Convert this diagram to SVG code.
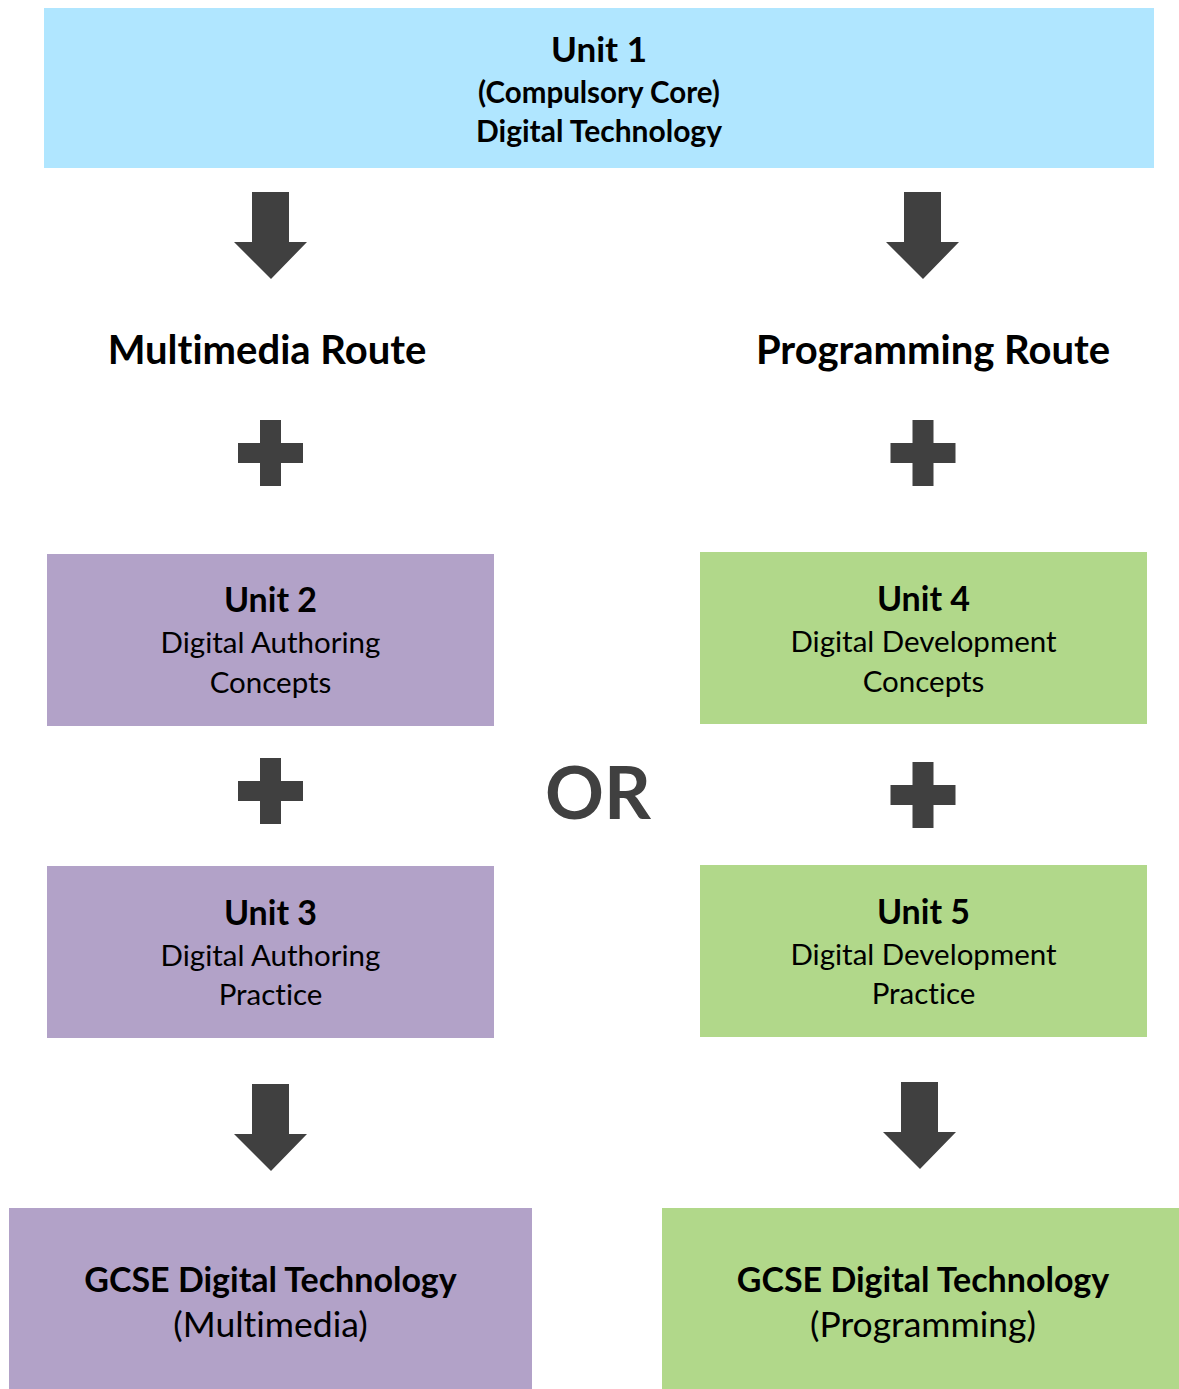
<svg xmlns="http://www.w3.org/2000/svg" width="1179" height="1389" viewBox="0 0 1179 1389">
  <style>
    text { font-family: Lato, "Open Sans", "Liberation Sans", sans-serif; fill: #000; text-anchor: middle; font-variant-ligatures: none; }
    .b { font-weight: bold; }
    .dark { fill: #404040; }
    .core { fill: #b0e6ff; }
    .mm { fill: #b2a2c8; }
    .pg { fill: #b1d88a; }
  </style>
  <defs>
    <path id="arrow" d="M-19,0 H18 V50 H36 L0,87 L-37,50 H-19 Z"/>
    <path id="plus" d="M-10.5,0 H10.5 V23 H32.5 V43 H10.5 V66 H-10.5 V43 H-32.5 V23 H-10.5 Z"/>
  </defs>

  <!-- connectors: arrows and plus signs between units -->
  <g id="connectors" class="dark">
    <use href="#arrow" x="271" y="192"/>
    <use href="#arrow" x="923" y="192"/>
    <use href="#plus" x="270.5" y="420"/>
    <use href="#plus" x="923" y="420"/>
    <use href="#plus" x="270.5" y="758"/>
    <use href="#plus" x="923" y="762"/>
    <use href="#arrow" x="271" y="1084"/>
    <use href="#arrow" x="920" y="1082"/>
  </g>

  <g id="unit1">
    <rect class="core" x="44" y="8" width="1110" height="160"/>
    <text class="b" x="599" y="62" font-size="35">Unit 1</text>
    <text class="b" x="599" y="103" font-size="29.5">(Compulsory Core)</text>
    <text class="b" x="599" y="142" font-size="30">Digital Technology</text>
  </g>

  <g id="route-multimedia">
    <text class="b" x="267" y="364" font-size="40">Multimedia Route</text>
  </g>
  <g id="route-programming">
    <text class="b" x="933" y="364" font-size="40">Programming Route</text>
  </g>

  <g id="unit2">
    <rect class="mm" x="47" y="554" width="447" height="172"/>
    <text class="b" x="270.5" y="612" font-size="34">Unit 2</text>
    <text x="270.5" y="653" font-size="29.5">Digital Authoring</text>
    <text x="270.5" y="693" font-size="29.5">Concepts</text>
  </g>

  <g id="unit4">
    <rect class="pg" x="700" y="552" width="447" height="172"/>
    <text class="b" x="923.5" y="611" font-size="34">Unit 4</text>
    <text x="923.5" y="652" font-size="29.5">Digital Development</text>
    <text x="923.5" y="692" font-size="29.5">Concepts</text>
  </g>

  <g id="or">
    <text class="b dark" x="598" y="819" font-size="73">OR</text>
  </g>

  <g id="unit3">
    <rect class="mm" x="47" y="866" width="447" height="172"/>
    <text class="b" x="270.5" y="925" font-size="34">Unit 3</text>
    <text x="270.5" y="966" font-size="29.5">Digital Authoring</text>
    <text x="270.5" y="1005" font-size="29.5">Practice</text>
  </g>

  <g id="unit5">
    <rect class="pg" x="700" y="865" width="447" height="172"/>
    <text class="b" x="923.5" y="924" font-size="34">Unit 5</text>
    <text x="923.5" y="965" font-size="29.5">Digital Development</text>
    <text x="923.5" y="1004" font-size="29.5">Practice</text>
  </g>

  <g id="gcse-multimedia">
    <rect class="mm" x="9" y="1208" width="523" height="181"/>
    <text class="b" x="270.5" y="1292" font-size="34">GCSE Digital Technology</text>
    <text x="270.5" y="1337" font-size="35.5">(Multimedia)</text>
  </g>

  <g id="gcse-programming">
    <rect class="pg" x="662" y="1208" width="517" height="181"/>
    <text class="b" x="923" y="1292" font-size="34">GCSE Digital Technology</text>
    <text x="923" y="1337" font-size="35.5">(Programming)</text>
  </g>
</svg>
